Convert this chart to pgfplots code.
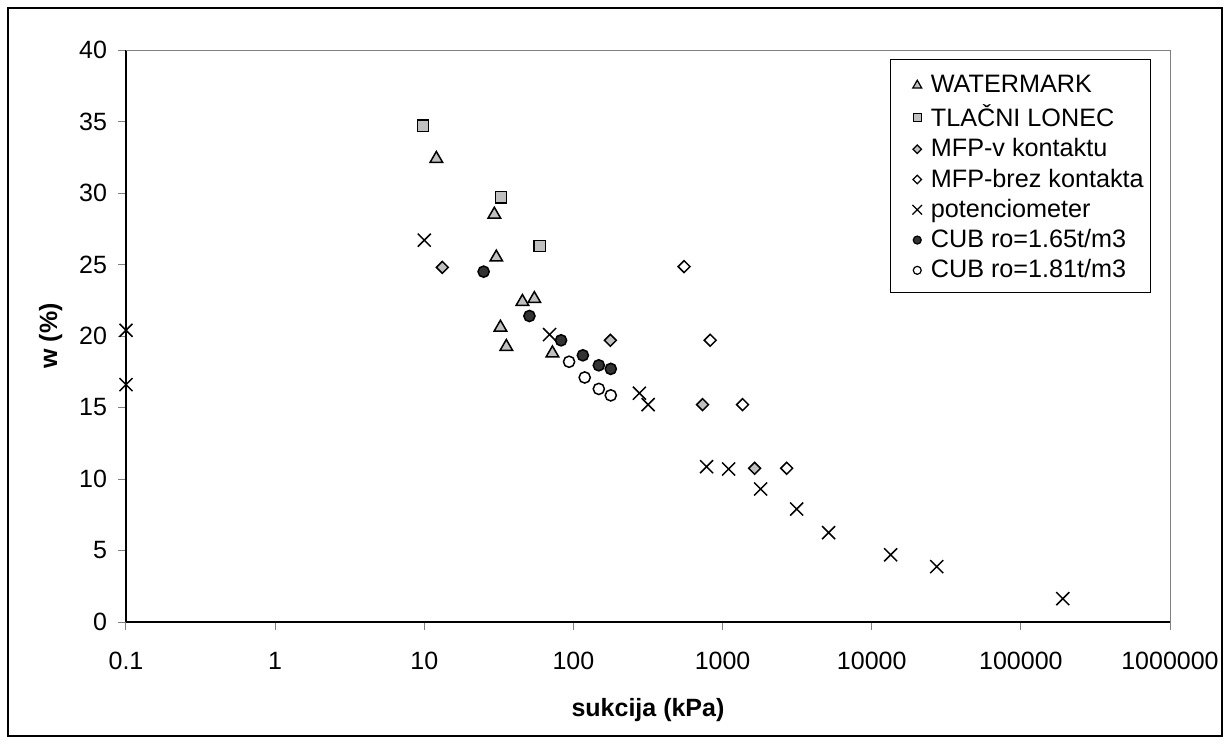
\documentclass[border=0pt]{standalone}
\usepackage{fontspec}
\setmainfont{Liberation Sans}
\usepackage{pgfplots}
\pgfplotsset{compat=1.18}

\definecolor{silverfill}{HTML}{C0C0C0}
\definecolor{darkfill}{HTML}{333333}
\definecolor{frame}{HTML}{808080}

\begin{document}
\begin{tikzpicture}
% page size: 1 px of the reference = 0.5pt
\path (0pt,0pt) rectangle (615.5pt,-372pt);
\draw[black, line width=1pt] (4pt,-4pt) rectangle (611pt,-368pt);
% legend frame
\draw[black, line width=0.5pt, fill=white] (445pt,-29.5pt) rectangle (575pt,-146pt);

\begin{axis}[
    at={(63pt,-311pt)}, anchor=south west,
    width=522pt, height=286pt, scale only axis,
    xmode=log, log basis x=10,
    xmin=0.1, xmax=1000000,
    ymin=0, ymax=40,
    clip=false,
    axis x line*=bottom, axis y line*=left,
    x axis line style={black, line width=0.75pt, -},
    y axis line style={black, line width=1pt, -},
    xtick={0.1,1,10,100,1000,10000,100000,1000000},
    xticklabels={0.1,1,10,100,1000,10000,100000,1000000},
    ytick={0,5,10,15,20,25,30,35,40},
    yticklabels={0,5,10,15,20,25,30,35,40},
    minor tick num=0,
    tick align=outside,
    major tick length=4pt,
    tick style={frame, line width=0.5pt},
    every tick label/.append style={font=\fontsize{12.5}{15}\selectfont},
    xticklabel style={yshift=-7.5pt},
    yticklabel style={xshift=-2pt},
    xlabel={\textbf{sukcija (kPa)}},
    ylabel={\textbf{w (\%)}},
    label style={font=\fontsize{12.5}{15}\selectfont},
    xlabel style={yshift=-7.5pt},
    ylabel style={yshift=1.5pt},
    legend style={draw=none, fill=none,
        at={(rel axis cs:0.751,0.967)}, anchor=north west,
        font=\fontsize{12.6}{15}\selectfont,
        row sep=0.5pt, column sep=0pt, inner sep=1pt},
    legend cell align=left,
    legend image code/.code={\draw[#1] plot coordinates {(0pt,0pt)}; \path (4.6pt,0pt);},
]
\draw[frame, line width=0.5pt] (rel axis cs:0,1) -- (rel axis cs:1,1) -- (rel axis cs:1,0);

\addlegendimage{only marks, mark=triangle*, mark size=2.6pt, mark options={fill=silverfill, draw=black, line width=0.6pt}}
\addlegendentry{WATERMARK}
\addlegendimage{only marks, mark=square*, mark size=2pt, mark options={fill=silverfill, draw=black, line width=0.6pt}}
\addlegendentry{TLAČNI LONEC}
\addlegendimage{only marks, mark=square*, mark size=1.5pt, mark options={rotate=45, fill=silverfill, draw=black, line width=0.6pt}}
\addlegendentry{MFP-v kontaktu}
\addlegendimage{only marks, mark=square*, mark size=1.5pt, mark options={rotate=45, fill=white, draw=black, line width=0.6pt}}
\addlegendentry{MFP-brez kontakta}
\addlegendimage{only marks, mark=x, mark size=3.4pt, mark options={draw=black, line width=0.6pt}}
\addlegendentry{potenciometer}
\addlegendimage{only marks, mark=*, mark size=2pt, mark options={fill=darkfill, draw=black, line width=0.6pt}}
\addlegendentry{CUB ro=1.65t/m3}
\addlegendimage{only marks, mark=*, mark size=2pt, mark options={fill=white, draw=black, line width=0.6pt}}
\addlegendentry{CUB ro=1.81t/m3}

% WATERMARK
\addplot[forget plot, only marks, mark=triangle*, mark size=3.6pt,
    mark options={fill=silverfill, draw=black, line width=0.75pt}] coordinates {
    (12.05,32.4)(29.5,28.5)(30.4,25.5)(45.5,22.4)(54.7,22.6)(32.4,20.6)(35.5,19.25)(72.3,18.8)
};
% TLACNI LONEC
\addplot[forget plot, only marks, mark=square*, mark size=2.8pt,
    mark options={fill=silverfill, draw=black, line width=0.75pt}] coordinates {
    (9.8,34.7)(32.7,29.7)(59.4,26.3)
};
% MFP-v kontaktu
\addplot[forget plot, only marks, mark=square*, mark size=2.1pt,
    mark options={rotate=45, fill=silverfill, draw=black, line width=0.75pt}] coordinates {
    (13.2,24.8)(177,19.7)(734,15.2)(1640,10.75)
};
% MFP-brez kontakta
\addplot[forget plot, only marks, mark=square*, mark size=2.1pt,
    mark options={rotate=45, fill=white, draw=black, line width=0.75pt}] coordinates {
    (552,24.85)(826,19.7)(1362,15.2)(2690,10.75)
};
% potenciometer
\addplot[forget plot, only marks, mark=x, mark size=4.6pt,
    mark options={draw=black, line width=0.75pt}] coordinates {
    (0.1,20.4)(0.1,16.6)(10,26.7)(69.2,20.1)(277,16.0)(317,15.2)(781,10.86)(1097,10.7)
    (1800,9.3)(3140,7.9)(5140,6.25)(13400,4.7)(27300,3.87)(191000,1.63)
};
% CUB ro=1.65
\addplot[forget plot, only marks, mark=*, mark size=2.8pt,
    mark options={fill=darkfill, draw=black, line width=0.75pt}] coordinates {
    (25.0,24.5)(50.7,21.4)(82.6,19.7)(115.7,18.65)(148,17.95)(178,17.7)
};
% CUB ro=1.81
\addplot[forget plot, only marks, mark=*, mark size=2.8pt,
    mark options={fill=white, draw=black, line width=0.75pt}] coordinates {
    (93.5,18.2)(119,17.1)(148,16.3)(178,15.85)
};
\end{axis}
\end{tikzpicture}
\end{document}
